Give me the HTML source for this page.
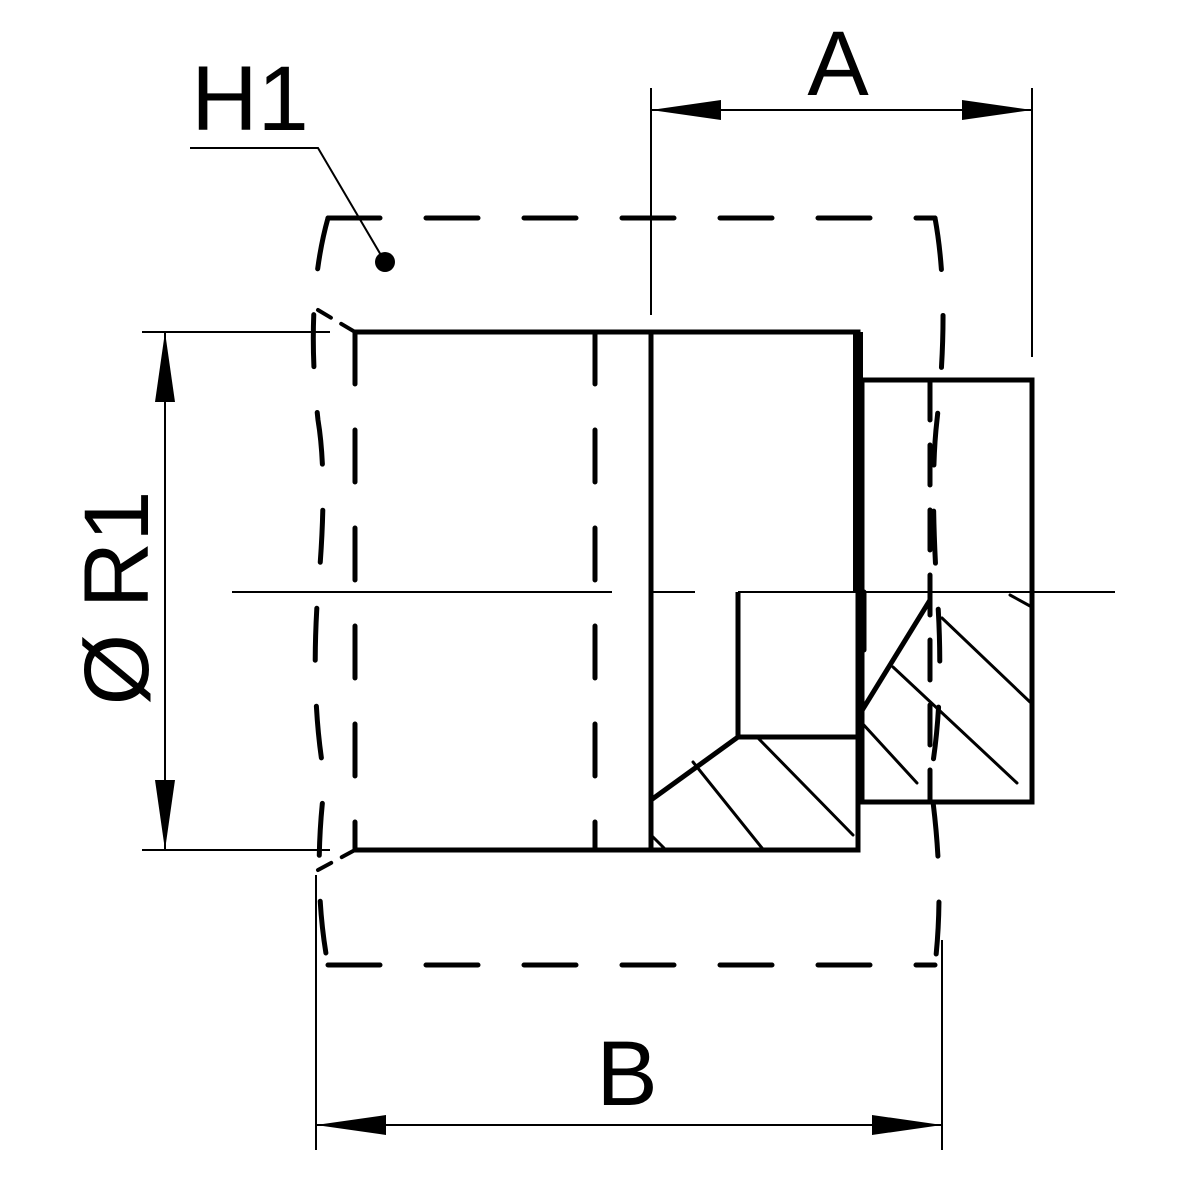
<!DOCTYPE html>
<html><head><style>html,body{margin:0;padding:0;background:#fff}svg{display:block}</style></head>
<body>
<svg width="1181" height="1181" viewBox="0 0 1181 1181" xmlns="http://www.w3.org/2000/svg">
<g fill="none" stroke="#000" stroke-linecap="round">
<g stroke-width="5" stroke-dasharray="52 46">
<path d="M328 218 L935 218"/>
<path d="M328 965 L935 965"/>
<path d="M328 218 Q305 300 318 420 Q328 480 318 590 Q310 700 325 780 Q312 880 328 965"/>
<path d="M935 218 Q950 300 937 420 Q930 480 937 590 Q945 700 930 780 Q945 880 935 965"/>
<path d="M355 332 L355 850"/>
<path d="M595 332 L595 850"/>
<path d="M930 380 L930 800" stroke-dasharray="40 25"/>
</g>
<path d="M318 310 L355 332 M318 870 L355 850" stroke-width="4" stroke-dasharray="15 12"/>
<g stroke-width="5" stroke-linecap="butt">
<path d="M355 332 L651 332 M355 850 L651 850"/>
<rect x="651" y="332" width="207" height="518"/>
<rect x="862" y="380" width="170" height="422"/>
<path d="M738 592 L738 737 L858 737"/>
<path d="M738 737 L651 800"/>
<path d="M930 600 L858 717"/>
</g>
<path d="M858 332 L858 592" stroke-width="10" stroke-linecap="butt"/>
<path d="M864 592 L864 650" stroke-width="5"/>
<g stroke-width="3">
<path d="M693 762 L762 848"/>
<path d="M757 737 L853 835"/>
<path d="M652 836 L664 848"/>
<path d="M1010 595 L1030 606"/>
<path d="M942 618 L1030 702"/>
<path d="M893 667 L1017 783"/>
<path d="M862 723 L917 783"/>
</g>
<g stroke-width="2" stroke-linecap="butt">
<path d="M232 592 L612 592 M650 592 L695 592 M738 592 L1115 592"/>
<path d="M651 110 L1032 110 M651 88 L651 315 M1032 88 L1032 357"/>
<path d="M316 1125 L942 1125 M316 875 L316 1150 M942 940 L942 1150"/>
<path d="M165 332 L165 850 M142 332 L330 332 M142 850 L330 850"/>
<path d="M190 148 L318 148 L385 262"/>
</g>
</g>
<g fill="#000">
<circle cx="385" cy="262" r="10"/>
<polygon points="651,110 721,100 721,120"/>
<polygon points="1032,110 962,100 962,120"/>
<polygon points="316,1125 386,1115 386,1135"/>
<polygon points="942,1125 872,1115 872,1135"/>
<polygon points="165,332 155,402 175,402"/>
<polygon points="165,850 155,780 175,780"/>
</g>
<g font-family="Liberation Sans, sans-serif" font-size="92" fill="#000">
<text x="838" y="95" text-anchor="middle">A</text>
<text x="250" y="130" text-anchor="middle">H1</text>
<text x="627" y="1105" text-anchor="middle">B</text>
<text transform="translate(148 598) rotate(-90)" text-anchor="middle">Ø R1</text>
</g>
</svg>
</body></html>
